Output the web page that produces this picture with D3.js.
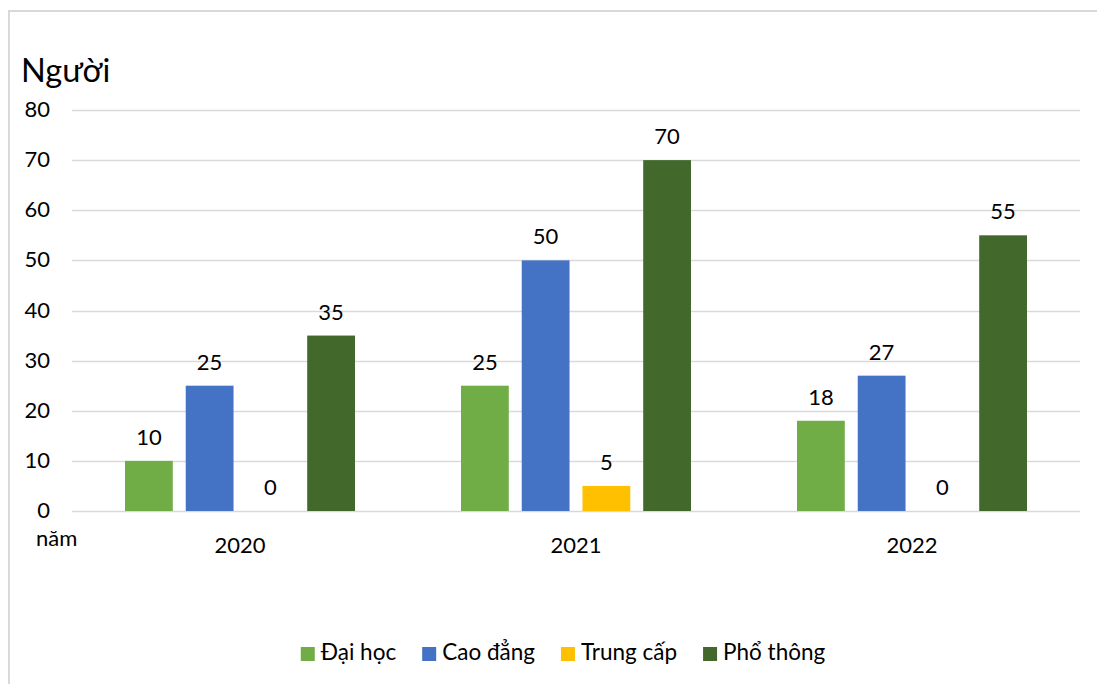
<!DOCTYPE html>
<html>
<head>
<meta charset="utf-8">
<script src="https://cdn.jsdelivr.net/npm/d3@7"></script>
<style>
  html, body { margin: 0; padding: 0; background: #fff; }
  svg { display: block; font-family: "Lato", "Open Sans", sans-serif; }
</style>
</head>
<body>
<svg id="chart" width="1097" height="684"></svg>
<script>
// Số người theo trình độ, 2020–2022
const years = ["2020", "2021", "2022"];
const seriesNames = ["Đại học", "Cao đẳng", "Trung cấp", "Phổ thông"];
const daiHoc = [10, 25, 18];
const caoDang = [25, 50, 27];
const trungCap = [0, 5, 0];
const phoThong = [35, 70, 55];
const yTicks = [0, 10, 20, 30, 40, 50, 60, 70, 80];
const colors = ["#70AD47", "#4472C4", "#FFC000", "#43682B"];

const seriesValues = [daiHoc, caoDang, trungCap, phoThong];
const FONT = "Lato, 'Open Sans', sans-serif";

const svg = d3.select("#chart");

// chart frame
svg.append("path")
  .attr("d", "M9,684 V11 H1097")
  .attr("fill", "none")
  .attr("stroke", "#d9d9d9")
  .attr("stroke-width", 2);

const plot = { left: 72, right: 1080, top: 110, bottom: 511 };

const y = d3.scaleLinear().domain([0, 80]).range([plot.bottom, plot.top]);
const x0 = d3.scaleBand().domain(years).range([plot.left, plot.right]).padding(0);
const x1 = d3.scaleBand().domain(seriesNames)
  .range([53, 283]).paddingInner(13 / 61).paddingOuter(0);

// gridlines
svg.append("g")
  .selectAll("line")
  .data(yTicks)
  .join("line")
  .attr("x1", plot.left)
  .attr("x2", plot.right)
  .attr("y1", d => Math.round(y(d)) + 0.5)
  .attr("y2", d => Math.round(y(d)) + 0.5)
  .attr("stroke", "#d9d9d9")
  .attr("stroke-width", 1.5);

// y axis labels
const yAxis = d3.axisLeft(y).tickValues(yTicks).tickSize(0).tickPadding(0);
const yG = svg.append("g").attr("transform", `translate(50,0)`).call(yAxis);
yG.select(".domain").remove();
yG.selectAll("text")
  .attr("font-size", 22)
  .attr("font-family", FONT)
  .attr("fill", "#000")
  .attr("dy", "0.3em");

// x axis labels
const xAxis = d3.axisBottom(x0).tickSize(0).tickPadding(0);
const xG = svg.append("g").attr("transform", `translate(0,${plot.bottom})`).call(xAxis);
xG.select(".domain").remove();
xG.selectAll("text")
  .attr("font-size", 22)
  .attr("font-family", FONT)
  .attr("fill", "#000")
  .attr("y", 42)
  .attr("dy", 0);

// bars
const groups = svg.append("g")
  .selectAll("g")
  .data(years)
  .join("g")
  .attr("transform", d => `translate(${x0(d)},0)`);

groups.each(function(year, yi) {
  const g = d3.select(this);
  const rows = seriesNames.map((name, si) => ({ name, si, value: seriesValues[si][yi] }));
  g.selectAll("rect")
    .data(rows)
    .join("rect")
    .attr("x", d => x1(d.name))
    .attr("width", x1.bandwidth())
    .attr("y", d => y(d.value))
    .attr("height", d => y(0) - y(d.value))
    .attr("fill", d => colors[d.si]);
  g.selectAll("text")
    .data(rows)
    .join("text")
    .attr("x", d => x1(d.name) + x1.bandwidth() / 2)
    .attr("y", d => y(d.value) - 16)
    .attr("text-anchor", "middle")
    .attr("font-size", 22)
    .attr("fill", "#000")
    .text(d => d.value);
});

// axis titles
svg.append("text")
  .attr("x", 21).attr("y", 82)
  .attr("font-size", 32.5)
  .attr("fill", "#000")
  .text("Người");

svg.append("text")
  .attr("x", 36).attr("y", 546)
  .attr("font-size", 22)
  .attr("fill", "#000")
  .text("năm");

// legend, laid out from the measured label widths and centred
const legend = svg.append("g").attr("transform", "translate(0,647)");
const items = legend.selectAll("g")
  .data(seriesNames)
  .join("g");
items.append("rect")
  .attr("width", 14).attr("height", 14)
  .attr("fill", (d, i) => colors[i]);
items.append("text")
  .attr("x", 20).attr("y", 13)
  .attr("font-size", 22.5)
  .attr("fill", "#000")
  .text(d => d);

let cursor = 0;
const offsets = [];
items.each(function() {
  offsets.push(cursor);
  const w = d3.select(this).select("text").node().getComputedTextLength();
  cursor += 20 + w + 26;
});
const total = cursor - 26;
const start = 563 - total / 2;
items.attr("transform", (d, i) => `translate(${start + offsets[i]},0)`);
</script>
</body>
</html>
